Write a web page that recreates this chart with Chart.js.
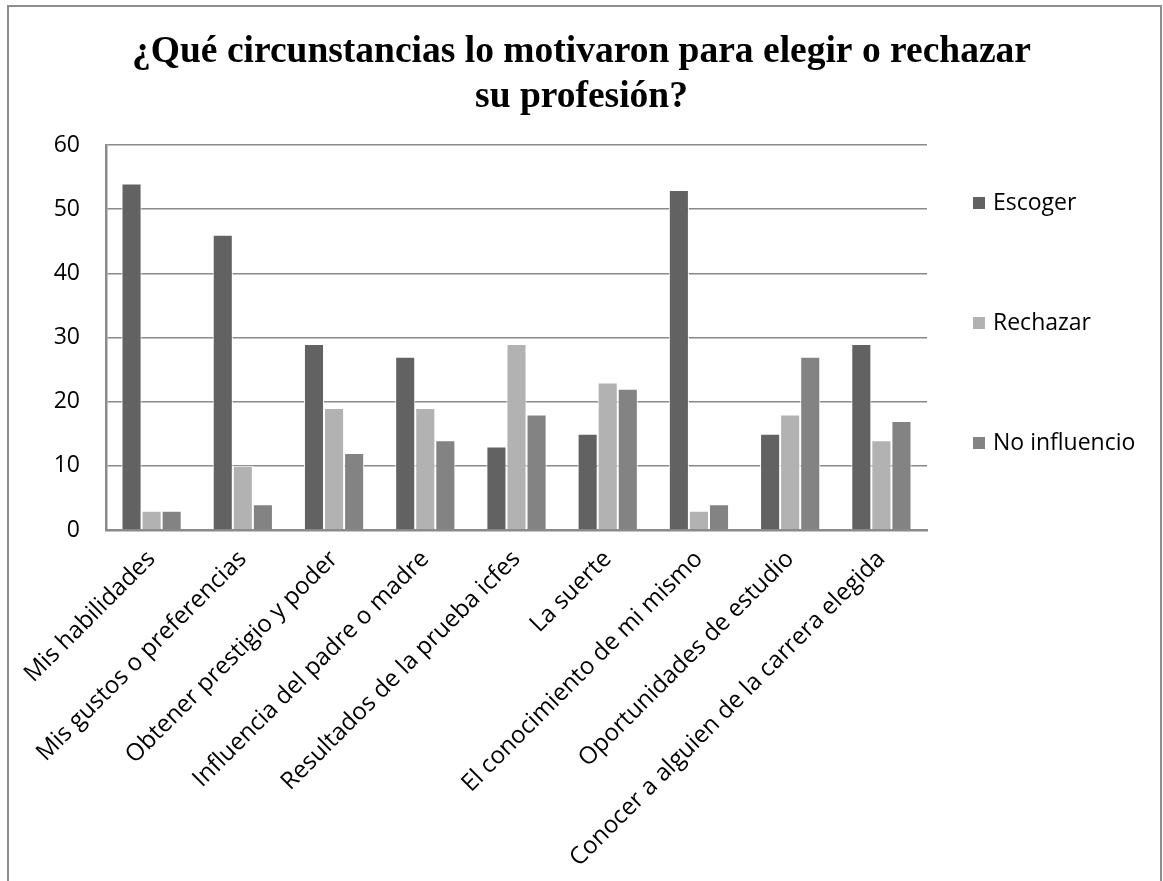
<!DOCTYPE html>
<html>
<head>
<meta charset="utf-8">
<script src="https://cdn.jsdelivr.net/npm/chart.js@4"></script>
<style>
  html, body { margin: 0; padding: 0; background: #fff; }
  #wrap { position: relative; width: 1163px; height: 881px; }
  canvas { display: block; }
</style>
</head>
<body>
<div id="wrap"><canvas id="c" width="1163" height="881"></canvas></div>
<script>
const titleLines = ['¿Qué circunstancias lo motivaron para elegir o rechazar', 'su profesión?'];
const categories = [
  'Mis habilidades',
  'Mis gustos o preferencias',
  'Obtener prestigio y poder',
  'Influencia del padre o madre',
  'Resultados de la prueba icfes',
  'La suerte',
  'El conocimiento de mi mismo',
  'Oportunidades de estudio',
  'Conocer a alguien de la carrera elegida'
];
const seriesNames = ['Escoger', 'Rechazar', 'No influencio'];
const escoger      = [54, 46, 29, 27, 13, 15, 53, 15, 29];
const rechazar     = [3, 10, 19, 19, 29, 23, 3, 18, 14];
const noInfluencio = [3, 4, 12, 14, 18, 22, 4, 27, 17];
const yTicks = [0, 10, 20, 30, 40, 50, 60];

const colors = ['#626262', '#b2b2b2', '#838383'];
const FONT = "'Open Sans', sans-serif";

const framePlugin = {
  id: 'frame',
  beforeDraw(chart) {
    const ctx = chart.ctx;
    ctx.save();
    ctx.fillStyle = '#fff';
    ctx.fillRect(0, 0, chart.width, chart.height);
    ctx.strokeStyle = '#8e8e8e';
    ctx.lineWidth = 2;
    ctx.beginPath();
    ctx.moveTo(8, chart.height + 5);
    ctx.lineTo(8, 6);
    ctx.lineTo(1161, 6);
    ctx.lineTo(1161, chart.height + 5);
    ctx.stroke();
    ctx.restore();
  }
};

const legendPlugin = {
  id: 'sideLegend',
  afterDraw(chart) {
    const ctx = chart.ctx;
    const area = chart.chartArea;
    ctx.save();
    ctx.font = '23px ' + FONT;
    ctx.textBaseline = 'middle';
    ctx.textAlign = 'left';
    chart.data.datasets.forEach((ds, i) => {
      const cy = area.top + 58 + i * 120;
      ctx.fillStyle = ds.backgroundColor;
      ctx.fillRect(973, cy - 6, 12, 12);
      ctx.fillStyle = '#000';
      ctx.fillText(ds.label, 993, cy);
    });
    ctx.restore();
  }
};

const seriesData = [escoger, rechazar, noInfluencio];

new Chart(document.getElementById('c'), {
  type: 'bar',
  data: {
    labels: categories,
    datasets: seriesNames.map((name, i) => ({
      label: name,
      data: seriesData[i],
      backgroundColor: colors[i],
      borderColor: '#ffffff',
      borderWidth: 1,
      categoryPercentage: 0.66,
      barPercentage: 1.0
    }))
  },
  options: {
    responsive: false,
    animation: false,
    devicePixelRatio: 1,
    layout: { padding: { left: 0, right: 0, top: 0, bottom: 0 } },
    plugins: {
      legend: { display: false },
      tooltip: { enabled: false },
      title: {
        display: true,
        text: titleLines,
        color: '#000',
        font: { family: "'Liberation Serif', 'Times New Roman', serif", size: 37.5, weight: 'bold', lineHeight: 1.2 },
        padding: { top: 30, bottom: 25 }
      }
    },
    scales: {
      x: {
        grid: { display: false, drawTicks: false },
        border: { display: true, color: '#8a8a8a', width: 2.5 },
        ticks: {
          color: '#000',
          font: { family: FONT, size: 24 },
          maxRotation: 45,
          minRotation: 45,
          padding: 15,
          autoSkip: false
        },
        afterFit(scale) { scale.height = 351; }
      },
      y: {
        min: 0,
        max: 60,
        afterBuildTicks(scale) { scale.ticks = yTicks.map(v => ({ value: v })); },
        grid: { color: '#8a8a8a', lineWidth: 1.5, drawTicks: false },
        border: { display: true, color: '#8a8a8a', width: 2.5 },
        ticks: {
          color: '#000',
          font: { family: FONT, size: 23 },
          padding: 26
        },
        afterFit(scale) { scale.width = 106; }
      },
      legendSpace: {
        type: 'linear',
        position: 'right',
        display: true,
        grid: { display: false, drawTicks: false },
        border: { display: false },
        ticks: { display: false },
        afterFit(scale) { scale.width = 236; }
      }
    }
  },
  plugins: [framePlugin, legendPlugin]
});
</script>
</body>
</html>
